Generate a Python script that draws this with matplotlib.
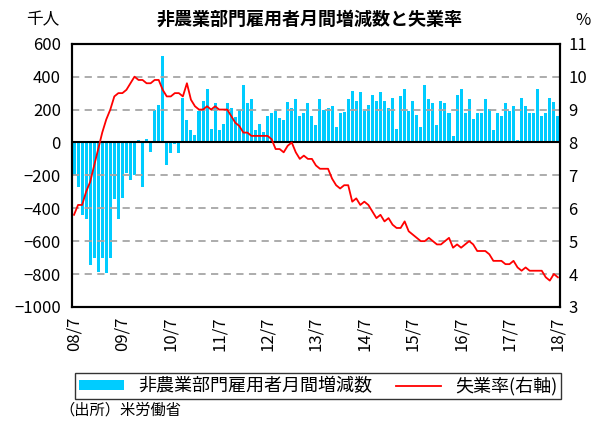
import numpy as np
import matplotlib
matplotlib.use("Agg")
import matplotlib.pyplot as plt
import matplotlib.transforms as mtransforms

plt.rcParams['font.family'] = ['Noto Sans CJK JP', 'DejaVu Sans']

# monthly change in nonfarm payrolls (thousands), 2008/7 - 2018/7
payrolls = [
    -200, -270, -440, -465, -745, -700,
    -785, -700, -795, -700, -345, -465, -335, -185, -230, -200, 15, -270,
    20, -60, 195, 225, 525, -140, -67, -10, -62, 272, 136, 76,
    48, 190, 253, 325, 80, 239, 74, 112, 239, 210, 156, 200,
    352, 239, 264, 74, 115, 64, 159, 177, 194, 150, 134, 247,
    212, 264, 159, 177, 239, 159, 105, 264, 200, 210, 220, 91,
    179, 187, 264, 315, 253, 307, 194, 229, 290, 253, 307, 253,
    210, 272, 80, 280, 325, 194, 253, 167, 91, 352, 264, 239,
    105, 253, 239, 177, 37, 290, 325, 177, 264, 140, 177, 177,
    264, 202, 74, 177, 159, 239, 194, 220, 12, 272, 220, 177,
    177, 325, 159, 177, 272, 247, 159,
]

# unemployment rate (%)
unemployment = [
    5.8, 6.1, 6.1, 6.5, 6.8, 7.3,
    7.8, 8.3, 8.7, 9.0, 9.4, 9.5, 9.5, 9.6, 9.8, 10.0, 9.9, 9.9,
    9.8, 9.8, 9.9, 9.9, 9.6, 9.4, 9.4, 9.5, 9.5, 9.4, 9.8, 9.3,
    9.1, 9.0, 9.0, 9.1, 9.0, 9.1, 9.0, 9.0, 9.0, 8.8, 8.6, 8.5,
    8.3, 8.3, 8.2, 8.2, 8.2, 8.2, 8.2, 8.1, 7.8, 7.8, 7.7, 7.9,
    8.0, 7.7, 7.5, 7.6, 7.5, 7.5, 7.3, 7.2, 7.2, 7.2, 6.9, 6.7,
    6.6, 6.7, 6.7, 6.2, 6.3, 6.1, 6.2, 6.1, 5.9, 5.7, 5.8, 5.6,
    5.7, 5.5, 5.4, 5.4, 5.6, 5.3, 5.2, 5.1, 5.0, 5.0, 5.1, 5.0,
    4.9, 4.9, 5.0, 5.1, 4.8, 4.9, 4.8, 4.9, 5.0, 4.9, 4.7, 4.7,
    4.7, 4.6, 4.4, 4.4, 4.4, 4.3, 4.3, 4.4, 4.2, 4.1, 4.2, 4.1,
    4.1, 4.1, 4.1, 3.9, 3.8, 4.0, 3.9,
]

tick_labels = ['08/7', '09/7', '10/7', '11/7', '12/7', '13/7',
               '14/7', '15/7', '16/7', '17/7', '18/7']

x = np.arange(len(payrolls))

fig = plt.figure(figsize=(5.95, 4.21), dpi=100)
ax = fig.add_axes([0.121, 0.271, 0.82, 0.625])
ax2 = ax.twinx()

ax.bar(x, payrolls, width=0.75, color='#00CCFF', zorder=2,
       label='非農業部門雇用者月間増減数')
for v in range(-800, 600, 200):
    if v != 0:
        ax.axhline(v, color='#A6A6A6', lw=1.3, ls=(0, (4, 3)), zorder=2.5)
ax.axhline(0, color='black', lw=1.5, zorder=3)

ax2.plot(x, unemployment, color='#FF0000', lw=1.3, label='失業率(右軸)')

ax.set_xlim(-0.5, len(payrolls) - 0.5)
ax.set_ylim(-1000, 600)
ax2.set_ylim(3, 11)
ax.set_yticks(range(-1000, 601, 200))
ax2.set_yticks(range(3, 12))

ax.set_xticks(x[::12])
ax.set_xticklabels(tick_labels, rotation=90, fontsize=12)
offset = mtransforms.ScaledTranslation(-0.07, 0, fig.dpi_scale_trans)
for lbl in ax.get_xticklabels():
    lbl.set_transform(lbl.get_transform() + offset)

ax.tick_params(axis='both', length=0, labelsize=12, pad=8)
ax.tick_params(axis='x', pad=7)
ax2.tick_params(axis='y', length=0, labelsize=12, pad=6)

for a in (ax, ax2):
    for s in a.spines.values():
        s.set_color('black')
        s.set_linewidth(1.5)

fig.text(0.52, 0.955, '非農業部門雇用者月間増減数と失業率', ha='center', va='center',
         fontsize=13, fontweight='bold')
fig.text(0.072, 0.952, '千人', ha='center', va='center', fontsize=12)
fig.text(0.98, 0.952, '%', ha='center', va='center', fontsize=12)

h1, l1 = ax.get_legend_handles_labels()
h2, l2 = ax2.get_legend_handles_labels()
leg = fig.legend(h1 + h2, l1 + l2, loc='center', ncol=2,
                 bbox_to_anchor=(0.111, 0.05, 0.847, 0.066), mode='expand',
                 fontsize=13, frameon=True, fancybox=False, edgecolor='black',
                 handlelength=2.5, handleheight=0.5, borderpad=0.2,
                 columnspacing=1.5)
leg.get_frame().set_linewidth(1.0)

fig.text(0.1, 0.026, '（出所）米労働省', ha='left', va='center', fontsize=11)

fig.savefig('out.png', dpi=100)
